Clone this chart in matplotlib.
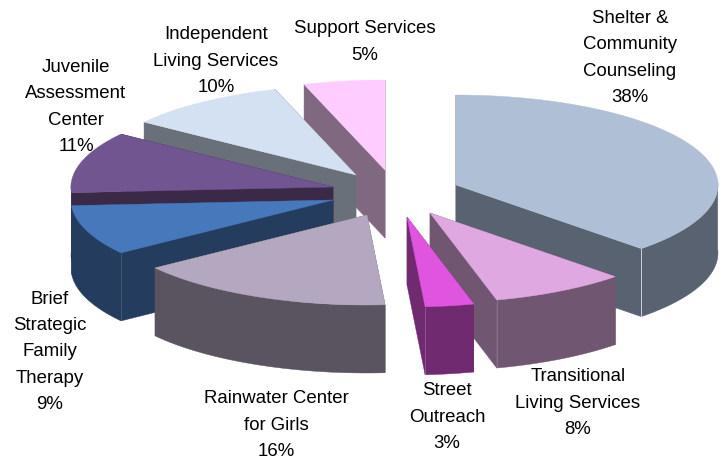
import numpy as np
import matplotlib
matplotlib.use('Agg')
import matplotlib.pyplot as plt
from matplotlib.patches import Polygon

plt.rcParams['font.family'] = ['Liberation Sans', 'DejaVu Sans']

# data, clockwise from 12 o'clock
categories = ['Shelter &\nCommunity\nCounseling', 'Transitional\nLiving Services', 'Street\nOutreach',
              'Rainwater Center\nfor Girls', 'Brief\nStrategic\nFamily\nTherapy', 'Juvenile\nAssessment\nCenter',
              'Independent\nLiving Services', 'Support Services']
shares = [37.5, 8.4, 3.0, 16.1, 9.0, 11.0, 10.0, 5.0]

# styles
top_colors = ['#AFC0D6', '#E0A8E0', '#E055E0', '#B3A8C0', '#4778BC', '#705590', '#D4E1F2', '#FFCCFF']
side_colors = ['#596270', '#705670', '#702A70', '#59545F', '#243D5E', '#3A2A48', '#6A7079', '#806880']

# layout, in picture pixels: exploded position of each slice tip and of each label
tip_x = [456, 430, 407, 367, 333, 333, 356, 385]
tip_y = [185, 213, 217, 215, 200, 187, 175, 170]
label_x = [630, 578, 447, 276, 50, 76, 216, 365]
label_y = [58, 403, 417, 425, 352, 107, 61, 42]
radius_x = 262
radius_y = 90
depth = 68
# back slices first
draw_order = [7, 6, 5, 4, 3, 0, 1, 2]
# slice -> (which cut edge has a seam, how visible it is)
seams = {0: (-1, 0.8), 1: (-1, 0.2), 2: (-1, 0.2), 4: (0, 0.15)}


def rim(tip, start, stop):
    angles = np.radians(np.linspace(start, stop, 120))
    return np.column_stack([tip[0] + radius_x * np.sin(angles), tip[1] - radius_y * np.cos(angles)])


fig = plt.figure(figsize=(7.28, 4.62), dpi=100)
ax = fig.add_axes([0, 0, 1, 1])
ax.set_xlim(0, 728)
ax.set_ylim(462, 0)
ax.axis('off')

edges = np.cumsum([0] + shares) * 3.6
down = np.array([0, depth])

for i in draw_order:
    tip = np.array([tip_x[i], tip_y[i]], dtype=float)
    arc = rim(tip, edges[i], edges[i + 1])

    # the two cut faces, then the outer wall that shows below the rim
    for end in (arc[0], arc[-1]):
        face = [tip, end, end + down, tip + down]
        ax.add_patch(Polygon(face, closed=True, fc=side_colors[i], ec=side_colors[i], lw=0.3))
    front = arc[np.cos(np.radians(np.linspace(edges[i], edges[i + 1], 120))) < 0.05]
    if len(front):
        wall = np.vstack([front, (front + down)[::-1]])
        ax.add_patch(Polygon(wall, closed=True, fc=side_colors[i], ec=side_colors[i], lw=0.3))
    ax.add_patch(Polygon(np.vstack([tip, arc]), closed=True, fc=top_colors[i], ec=top_colors[i], lw=0.3))

    # thin light seam where a cut face meets the wall
    if i in seams:
        seam = arc[seams[i][0]]
        ax.plot([seam[0], seam[0]], [seam[1], seam[1] + depth], color='white', lw=0.6, alpha=seams[i][1])

for name, share, x, y in zip(categories, shares, label_x, label_y):
    ax.text(x, y, f'{name}\n{share:.0f}%', ha='center', va='center', fontsize=13.4, color='black', linespacing=1.72)

fig.savefig('out.png', dpi=100)
